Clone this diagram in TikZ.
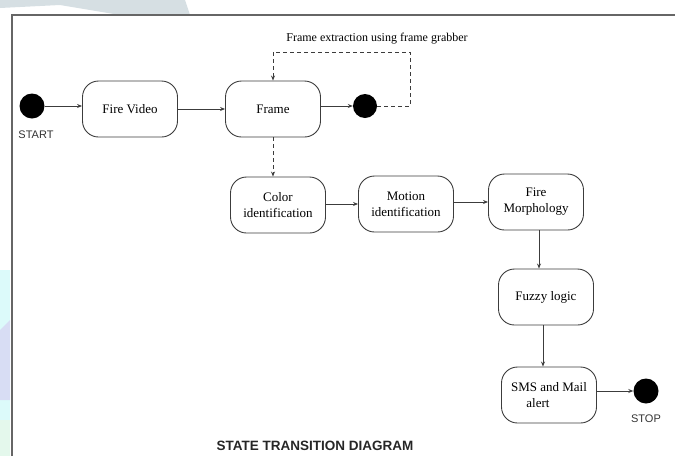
\documentclass[tikz,border=0pt]{standalone}
\usepackage{fontspec}
\setmainfont{Liberation Serif}
\setsansfont{Liberation Sans}
\usetikzlibrary{arrows.meta,positioning}
\definecolor{linec}{HTML}{3C3C3C}
\definecolor{framec}{HTML}{666666}
\definecolor{wmgray}{HTML}{D6DFE3}
\definecolor{wmcyan}{HTML}{DCFAFA}
\definecolor{wmlav}{HTML}{D8DDF4}
\definecolor{wmgreen}{HTML}{E4F8EC}
\tikzset{
  state/.style={draw=linec, line width=0.9pt, rounded corners=16pt, minimum width=95pt, minimum height=56pt, align=center, font=\fontsize{13}{16}\selectfont, inner sep=2pt},
  dot/.style={circle, fill=black, minimum size=25pt, inner sep=0pt},
  conn/.style={draw=linec, line width=0.9pt, -{Stealth[length=5pt,width=4pt]}},
  dconn/.style={conn, dashed, dash pattern=on 4pt off 3pt},
  lab/.style={font=\sffamily\fontsize{11}{13}\selectfont, text=black!80}
}
\begin{document}
\begin{tikzpicture}[x=1pt,y=-1pt]
\useasboundingbox (0,0) rectangle (675,456);
% watermark traces
\fill[wmgray] (0,0) -- (185,0) -- (190,15) -- (120,15) -- (60,5) -- (0,8) -- cycle;
\fill[wmcyan] (0,270) rectangle (10,456);
\fill[wmlav] (0,330) -- (10,320) -- (10,400) -- (0,400) -- cycle;
\fill[wmgreen] (0,420) rectangle (10,456);
% frame
\draw[framec, line width=1.3pt] (12,456) -- (12,15) -- (675,15);
% nodes
\node[dot] (start) at (32,106) {};
\node[lab] (startl) at (36,135) {START};
\node[state] (video) at (130,109) {Fire Video};
\node[state] (frame) at (273,109) {Frame};
\node[dot, minimum size=24pt] (fend) at (365,106) {};
\node[font=\fontsize{12}{14}\selectfont] (grab) at (377,39) {Frame extraction using frame grabber};
\coordinate (g1) at (410,106);
\coordinate (g2) at (410,52);
\coordinate (g3) at (273,52);
\node[state] (color) at (278,205) {Color\\identification};
\node[state] (motion) at (406,204) {Motion\\identification};
\node[state] (morph) at (536,202) {Fire\\Morphology};
\node[state] (fuzzy) at (546,297) {Fuzzy logic};
\node[state] (sms) at (549,395) {SMS and Mail\\\hspace*{-22pt}alert};
\node[dot] (stop) at (646,391) {};
\node[lab] (stopl) at (646,419) {STOP};
\node[font=\sffamily\bfseries\fontsize{13.5}{16}\selectfont, text=black!85] (title) at (315,446) {STATE TRANSITION DIAGRAM};
% connectors
\draw[conn] (start.east) -- (video.west |- start.east);
\draw[conn] (video.east) -- (frame.west);
\draw[conn] (frame.east |- fend.west) -- (fend.west);
\draw[dconn] (fend.east) -- (g1) -- (g2) -- (g3) -- (frame.north);
\draw[dconn] (frame.south) -- (frame.south |- color.north);
\draw[conn] (color.east |- motion.west) -- (motion.west);
\draw[conn] (motion.east |- morph.west) -- (morph.west);
\draw[conn] ([xshift=3pt]morph.south) -- ([xshift=3pt]morph.south |- fuzzy.north);
\draw[conn] ([xshift=-3pt]fuzzy.south) -- ([xshift=-3pt]fuzzy.south |- sms.north);
\draw[conn] (sms.east |- stop.west) -- (stop.west);
\end{tikzpicture}
\end{document}
